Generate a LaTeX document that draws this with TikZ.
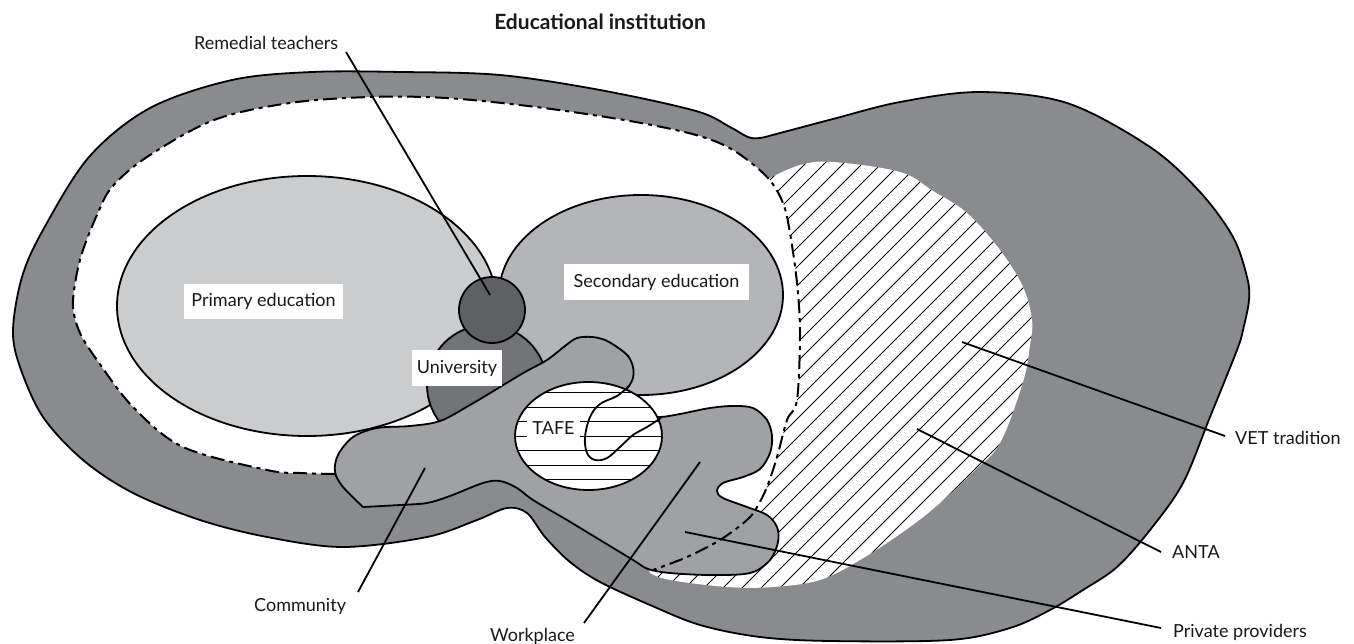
\documentclass[tikz,border=0pt]{standalone}
\usepackage{fontspec}
\setmainfont{Lato}
\definecolor{bandcol}{HTML}{8A8B8F}
\definecolor{primcol}{HTML}{CBCCCE}
\definecolor{seccol}{HTML}{B4B5B8}
\definecolor{blobcol}{HTML}{A0A1A5}
\definecolor{unicol}{HTML}{737478}
\definecolor{remcol}{HTML}{5F6064}
\newcommand\lblfont{\fontsize{18}{21}\selectfont}
\tikzset{
  outl/.style={draw=black, line width=1.8pt, line join=round},
  leader/.style={draw=black, line width=1.8pt},
  hatchline/.style={draw=black, line width=0.9pt},
  dashdotline/.style={draw=black, line width=2pt, dash pattern=on 14pt off 5pt on 4pt off 5pt},
  lbl/.style={font=\lblfont, inner sep=0pt, text=black!90},
  boxlbl/.style={font=\lblfont, fill=white, inner sep=0pt, text=black!90, align=center},
}
\begin{document}
\begin{tikzpicture}[x=1pt,y=-1pt]
\useasboundingbox (0,0) rectangle (1354,644);
\fill[white] (0,0) rectangle (1354,644);

% outer dark shape
\filldraw[outl, fill=bandcol] plot[smooth cycle, tension=0.55] coordinates {
 (13,330) (22,277) (43,230) (89,157) (150,108) (232,80) (312,72) (402,72) (500,75) (600,90)
 (696,111) (730,127) (748,137) (760,138) (780,133) (833,119) (900,102) (980,92) (1067,103)
 (1150,147) (1200,192) (1233,237) (1247,277) (1249,300) (1243,330) (1237,350) (1210,417)
 (1183,483) (1150,530) (1117,567) (1083,590) (1050,610) (1010,628) (950,640) (830,641)
 (760,637) (700,625) (650,605) (600,582) (570,562) (545,537) (527,513) (507,508) (477,520)
 (427,537) (343,547) (267,537) (200,520) (133,493) (83,460) (43,417) (20,367)};

% hatched VET region
\begin{scope}
\clip plot[smooth, tension=0.6] coordinates {(770,178) (800,165) (833,162) (900,172) (933,191)
 (967,213) (1000,250) (1023,287) (1032,320) (1030,345) (1023,382) (1000,443) (973,472)
 (933,509) (900,534) (860,560) (820,580) (773,587) (727,587) (670,580) (650,573)}
 -- (640,540) -- (700,450) -- (760,300) -- (760,185) -- cycle;
\fill[white] (600,100) rectangle (1100,650);
\foreach \k in {48,...,77} { \draw[hatchline] ({19*\k-650},650) -- ({19*\k-150},150); }
\end{scope}

% white interior
\fill[white] plot[smooth, tension=0.55] coordinates {(335,474) (300,473) (267,470) (183,447)
 (133,407) (97,360) (80,333) (73,307) (76,278) (83,250) (97,215) (112,187) (147,157) (214,120)
 (290,103) (370,97) (446,98) (536,107) (630,121) (696,135) (733,150) (767,177) (783,203)
 (790,233) (797,283) (800,333) (797,400) (787,420) (777,457) (767,487) (757,507) (747,520)
 (720,540) (687,557) (653,570)} -- (640,540) -- (600,500) -- (540,470) -- (450,460) -- (380,460) -- cycle;

% primary and secondary
\filldraw[outl, fill=primcol] (307,306) ellipse (190 and 130);
\filldraw[outl, fill=seccol] (641,295) ellipse (142 and 100);
% university and remedial
\filldraw[outl, fill=unicol] (487,385) circle (60);
\filldraw[outl, fill=remcol] (492,310) circle (33);

% community / workplace blob
\filldraw[outl, fill=blobcol] plot[smooth, tension=0.55] coordinates {(363,507) (343,487)
 (335,472) (338,455) (353,437) (377,428) (410,426) (440,421) (470,405) (500,387) (525,372)
 (547,360) (565,346) (577,338) (592,337) (605,340) (617,347) (628,356) (633,367) (633,378)
 (629,386) (620,400) (640,415) (660,417) (680,414) (710,408) (733,406) (753,408) (767,420)
 (772,436) (770,453) (760,469) (743,477) (723,483) (717,491) (723,498) (747,507) (767,515)
 (777,527) (778,542) (770,560) (750,573) (710,575) (670,573) (648,569) (633,560) (600,540)
 (567,520) (533,500) (517,488) (500,481) (483,483) (450,496) (427,503) (400,505) (363,507)} -- cycle;

% TAFE
\begin{scope}
\clip (588.5,436) ellipse (73.5 and 54);
\fill[white] (510,380) rectangle (670,495);
\foreach \yy in {392.5,407,421.5,436,450.5,465,479.5} { \draw[hatchline] (510,\yy) -- (670,\yy); }
\end{scope}
\draw[outl] (588.5,436) ellipse (73.5 and 54);
\draw[outl] plot[smooth, tension=0.6] coordinates {(629,386) (617,396) (600,404) (590,417)
 (585,437) (587,453) (595,460) (607,458) (620,447) (633,435) (647,427) (661,418)};

% dash-dot boundary
\draw[dashdotline] plot[smooth, tension=0.55] coordinates {(335,474) (300,473) (267,470) (183,447)
 (133,407) (97,360) (80,333) (73,307) (76,278) (83,250) (97,215) (112,187) (147,157) (214,120)
 (290,103) (370,97) (446,98) (536,107) (630,121) (696,135) (733,150) (767,177) (783,203)
 (790,233) (797,283) (800,333) (797,400) (787,420) (777,457) (767,487) (757,507) (747,520)
 (720,540) (687,557) (653,570)};

% boxed labels
\node[boxlbl, minimum width=159pt, minimum height=35pt] (prim) at (263.5,301.5) {Primary education};
\node[boxlbl, minimum width=185pt, minimum height=36pt] (sec) at (656.5,282) {Secondary education};
\node[boxlbl, minimum width=90pt, minimum height=36pt] (uni) at (457,368) {University};
\node[boxlbl, minimum width=53pt, minimum height=18pt] (tafe) at (553.5,428.5) {TAFE};

% free labels
\node[lbl, anchor=base, font=\fontsize{21}{24}\selectfont\bfseries] (title) at (600,30) {Educational institution};
\node[lbl, anchor=base west] (rem) at (194,50) {Remedial teachers};
\node[lbl, anchor=base west] (vet) at (1235,444) {VET tradition};
\node[lbl, anchor=base west] (anta) at (1172,558) {ANTA};
\node[lbl, anchor=base west] (priv) at (1173,637) {Private providers};
\node[lbl, anchor=base west] (comm) at (254,611) {Community};
\node[lbl, anchor=base west] (work) at (490,641) {Workplace};

% leader endpoints
\coordinate (remA) at (346,52);   \coordinate (remB) at (490,295);
\coordinate (commA) at (358,592); \coordinate (commB) at (425,468);
\coordinate (workA) at (584,623); \coordinate (workB) at (700,462);
\coordinate (privA) at (1161,628); \coordinate (privB) at (685,532);
\coordinate (antaA) at (1161,552); \coordinate (antaB) at (917,429);
\coordinate (vetA) at (1225,436); \coordinate (vetB) at (962,342);
\draw[leader] (remA) -- (remB);
\draw[leader] (commA) -- (commB);
\draw[leader] (workA) -- (workB);
\draw[leader] (privA) -- (privB);
\draw[leader] (antaA) -- (antaB);
\draw[leader] (vetA) -- (vetB);
\end{tikzpicture}
\end{document}
